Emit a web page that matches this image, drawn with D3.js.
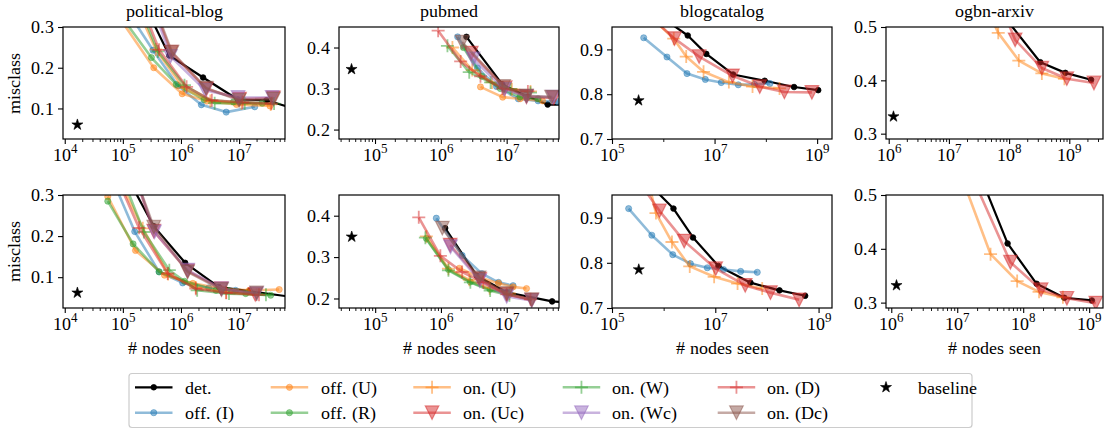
<!DOCTYPE html>
<html><head><meta charset="utf-8">
<script src="https://cdn.jsdelivr.net/npm/d3@7"></script>
<style>
@font-face{font-family:"CMLike";src:local("Liberation Serif"),local("LiberationSerif-Regular"),local("LiberationSerif"),local("DejaVu Serif"),local("DejaVuSerif");}
body{margin:0;background:#fff;}
svg text{font-family:"CMLike","Liberation Serif","DejaVu Serif",serif !important;}
</style></head><body>
<svg id="c" width="1105" height="431"></svg>
<script>
// ---------------- data ----------------
const titles = ["political-blog","pubmed","blogcatalog","ogbn-arxiv"];
const yDomains = [[0.025,0.3],[0.177,0.45],[0.7,0.95],[0.29,0.5]];
const yTicks = [[0.1,0.2,0.3],[0.2,0.3,0.4],[0.7,0.8,0.9],[0.3,0.4,0.5]];
// log10 x-domain per panel (row-major: top row 0..3, bottom row 4..7)
const xDomainsLog = [[3.97,7.79],[4.453,7.795],[5.0,9.29],[5.955,9.56],[3.97,7.79],[4.45,7.795],[5.0,9.26],[5.92,9.21]];
const xTickExps = [[4,5,6,7],[5,6,7],[5,7,9],[6,7,8,9]];
const baseline = [[1.65e4,0.06],[4.4e4,0.347],[3.3e5,0.786],[1.2e6,0.332],[1.65e4,0.062],[4.4e4,0.349],[3.3e5,0.785],[1.2e6,0.332]];

const det = [
 [[2.0e5,0.375],[6.3e5,0.23],[2.4e6,0.176],[9.5e6,0.122],[2.95e7,0.12],[1.0e8,0.097]],
 [[2.45e6,0.426],[8.6e6,0.31],[2.1e7,0.28],[4.2e7,0.261],[9e7,0.26]],
 [[8.5e5,0.975],[3.0e6,0.931],[6.9e6,0.890],[2.3e7,0.844],[9.5e7,0.830],[3.55e8,0.816],[1.05e9,0.809]],
 [[7e7,0.53],[3.3e8,0.434],[8.6e8,0.414],[2.3e9,0.401]],
 [[1e5,0.363],[3.4e5,0.224],[1.18e6,0.135],[4.5e6,0.076],[1.5e7,0.066],[8e7,0.052]],
 [[1.16e6,0.37],[3.5e6,0.255],[1e7,0.215],[4.9e7,0.193],[1e8,0.19]],
 [[5.5e5,0.972],[1.55e6,0.92],[3.7e6,0.856],[1.15e7,0.793],[4.8e7,0.756],[1.75e8,0.739],[5.5e8,0.727]],
 [[1.9e7,0.557],[5.8e7,0.41],[1.6e8,0.335],[4.2e8,0.309],[1.1e9,0.304]]
];
const offI = [
 [[1.23e5,0.337],[3.3e5,0.243],[8.9e5,0.156],[2.24e6,0.109],[6.0e6,0.091],[1.86e7,0.104]],
 [[1.8e6,0.426],[3.6e6,0.35],[7e6,0.305],[1.5e7,0.275],[3e7,0.27],[6e7,0.268]],
 [[4.15e5,0.926],[1.18e6,0.883],[2.9e6,0.846],[6.6e6,0.833],[1.35e7,0.826],[2.9e7,0.821],[6e7,0.822],[1.2e8,0.824]],
 null,
 [[7e4,0.33],[1.6e5,0.211],[4.2e5,0.113],[1.07e6,0.086],[3e6,0.074],[8.7e6,0.068]],
 [[8.5e5,0.394],[2.1e6,0.304],[4.2e6,0.26],[7.5e6,0.239],[1.25e7,0.231]],
 [[2.1e5,0.92],[5.9e5,0.861],[1.5e6,0.818],[3.3e6,0.798],[7e6,0.789],[1.45e7,0.785],[3.1e7,0.781],[6.5e7,0.779]],
 null
];
const offU = [
 [[9e4,0.32],[3.4e5,0.200],[1.05e6,0.136],[2.8e6,0.118],[9e6,0.11],[3.4e7,0.106]],
 [[4e6,0.304],[8.7e6,0.279],[1.6e7,0.275],[3.5e7,0.27]],
 null, null,
 [[5.5e4,0.296],[1.65e5,0.165],[5.2e5,0.105],[1.6e6,0.085],[5e6,0.072],[1.5e7,0.068],[4.9e7,0.07]],
 [[1.9e6,0.273],[4e6,0.25],[7.5e6,0.237],[1.25e7,0.228],[2.0e7,0.224]],
 null, null
];
const offR = [
 [[8e4,0.34],[3.1e5,0.225],[8.3e5,0.159],[2.5e6,0.122],[8e6,0.116],[2.5e7,0.113]],
 [[2.2e6,0.40],[4.2e6,0.33],[8e6,0.30],[1.6e7,0.28],[3e7,0.275]],
 null, null,
 [[5.5e4,0.285],[1.5e5,0.181],[4.2e5,0.113],[1.15e6,0.09],[4e6,0.068],[1.3e7,0.06],[3.5e7,0.056]],
 [[6e5,0.345],[1.3e6,0.27],[2.8e6,0.24],[5.6e6,0.222],[1.1e7,0.21]],
 null, null
];
const onU = [
 [[1.6e5,0.36],[3.7e5,0.245],[1.1e6,0.15],[3.2e6,0.118],[1.1e7,0.112],[3.5e7,0.11]],
 [[1.5e6,0.40],[3e6,0.345],[6e6,0.315],[1.2e7,0.298],[2.3e7,0.293]],
 [[6e5,0.97],[1.6e6,0.924],[2.8e6,0.884],[6.1e6,0.85],[1.9e7,0.827],[5.5e7,0.817],[1.85e8,0.813]],
 [[4.5e7,0.53],[6.6e7,0.489],[1.45e8,0.437],[3.5e8,0.413],[8.3e8,0.403]],
 [[9e4,0.33],[2.2e5,0.219],[6e5,0.108],[1.8e6,0.075],[6e6,0.063],[2e7,0.058]],
 [[6e5,0.35],[1.3e6,0.272],[2.7e6,0.245],[5.5e6,0.225],[1.1e7,0.212]],
 [[4.7e5,0.994],[7.1e5,0.91],[1.45e6,0.846],[3.2e6,0.792],[9.5e6,0.769],[2.7e7,0.754],[8.1e7,0.743]],
 [[1.07e7,0.546],[3.2e7,0.39],[8.1e7,0.34],[1.74e8,0.32],[4e8,0.31]]
];
const onUc = [
 [[2.2e5,0.42],[6.8e5,0.238],[2.75e6,0.148],[1.02e7,0.123],[3.9e7,0.126]],
 [[2.9e6,0.386],[9.5e6,0.302],[2.0e7,0.28],[5.2e7,0.277]],
 [[6e5,0.97],[1.66e6,0.924],[5e6,0.884],[2.24e7,0.841],[7.6e7,0.817],[2.3e8,0.805],[7.9e8,0.804]],
 [[8e7,0.53],[1.26e8,0.476],[3.5e8,0.423],[9.1e8,0.403],[2.57e9,0.395]],
 [[1.5e5,0.36],[3.4e5,0.212],[1.3e6,0.115],[4.9e6,0.072],[1.9e7,0.058]],
 [[1.38e6,0.329],[3.9e6,0.247],[1e7,0.21],[2.4e7,0.196]],
 [[3e5,0.987],[8.3e5,0.915],[2.5e6,0.848],[1.02e7,0.787],[3.8e7,0.75],[1.17e8,0.734],[4.2e8,0.718]],
 [[1.5e7,0.548],[6.4e7,0.375],[1.87e8,0.324],[4.6e8,0.308],[1.26e9,0.299]]
];
const onW = [
 [[1.7e5,0.37],[4.0e5,0.24],[1.15e6,0.157],[3.8e6,0.113],[1.25e7,0.113],[4e7,0.112]],
 [[1.26e6,0.404],[2.7e6,0.34],[5.7e6,0.315],[1.15e7,0.299],[2.3e7,0.29]],
 null, null,
 [[1e5,0.34],[2.3e5,0.21],[6.3e5,0.117],[1.9e6,0.068],[6.7e6,0.06],[2.9e7,0.057]],
 [[5.8e5,0.347],[1.3e6,0.268],[2.8e6,0.239],[5.6e6,0.219],[1.1e7,0.208]],
 null, null
];
const onWc = [
 [[2.2e5,0.42],[6.6e5,0.228],[2.6e6,0.145],[9.6e6,0.127],[3.7e7,0.127]],
 [[3.1e6,0.372],[9.2e6,0.298],[2.0e7,0.281],[5e7,0.279]],
 null, null,
 [[1.5e5,0.36],[3.5e5,0.21],[1.3e6,0.117],[5e6,0.072],[2e7,0.06]],
 [[1.4e6,0.325],[3.9e6,0.243],[1e7,0.205],[2.4e7,0.195]],
 null, null
];
const onD = [
 [[1.8e5,0.38],[4.2e5,0.244],[1.25e6,0.153],[3.4e6,0.12],[1.15e7,0.115],[3.6e7,0.112]],
 [[9.1e5,0.441],[2.0e6,0.366],[4.0e6,0.33],[8.6e6,0.30],[2.1e7,0.293]],
 null, null,
 [[8e4,0.34],[1.9e5,0.22],[5.9e5,0.109],[1.8e6,0.072],[6e6,0.062],[2.2e7,0.057]],
 [[4.6e5,0.396],[9.8e5,0.303],[2.1e6,0.264],[4.4e6,0.239],[1e7,0.21],[2.3e7,0.198]],
 null, null
];
const onDc = [
 [[2.3e5,0.42],[7e5,0.238],[2.7e6,0.15],[1.0e7,0.12],[3.9e7,0.123]],
 [[2.1e6,0.413],[9e6,0.305],[2.0e7,0.282],[4.8e7,0.279]],
 null, null,
 [[1.5e5,0.36],[3.4e5,0.222],[1.3e6,0.113],[5e6,0.07],[2e7,0.062]],
 [[1.05e6,0.37],[3.8e6,0.25],[1e7,0.212],[2.4e7,0.197]],
 null, null
];

// ---------------- styles / layout ----------------
const series = [
 {name:"det.", data:det, color:"#000000", marker:"o", op:1, lw:2.2},
 {name:"off. (I)", data:offI, color:"#1f77b4", marker:"o", op:0.5, lw:2.6},
 {name:"off. (U)", data:offU, color:"#ff7f0e", marker:"o", op:0.5, lw:2.6},
 {name:"off. (R)", data:offR, color:"#2ca02c", marker:"o", op:0.5, lw:2.6},
 {name:"on. (U)", data:onU, color:"#ff7f0e", marker:"+", op:0.5, lw:2.6},
 {name:"on. (Uc)", data:onUc, color:"#d62728", marker:"v", op:0.5, lw:2.6},
 {name:"on. (W)", data:onW, color:"#2ca02c", marker:"+", op:0.5, lw:2.6},
 {name:"on. (Wc)", data:onWc, color:"#9467bd", marker:"v", op:0.5, lw:2.6},
 {name:"on. (D)", data:onD, color:"#d62728", marker:"+", op:0.5, lw:2.6},
 {name:"on. (Dc)", data:onDc, color:"#8c564b", marker:"v", op:0.5, lw:2.6}
];
const colL = [63,339,612,886], colR = [285,559,832,1103];
const rowT = [27,195], rowB = [139,308];
const FS = 18, SUP = 12.5;

const svg = d3.select("#c");
const defs = svg.append("defs");

function drawMarker(g, type, color, op, cx, cy){
  if(type==="o"){
    g.append("circle").attr("cx",cx).attr("cy",cy).attr("r",op===1?2.8:3.1)
     .attr("fill",color).attr("fill-opacity",op).attr("stroke",color).attr("stroke-opacity",op).attr("stroke-width",0.8);
  } else if(type==="+"){
    g.append("path").attr("d",`M${cx-6.5},${cy}H${cx+6.5}M${cx},${cy-6.5}V${cy+6.5}`)
     .attr("stroke",color).attr("stroke-opacity",op).attr("stroke-width",1.8).attr("fill","none");
  } else if(type==="v"){
    const s=6.8;
    g.append("path").attr("d",`M${cx-s},${cy-s}L${cx+s},${cy-s}L${cx},${cy+s}Z`)
     .attr("fill",color).attr("fill-opacity",op).attr("stroke",color).attr("stroke-opacity",op).attr("stroke-width",1.2).attr("stroke-linejoin","miter");
  } else if(type==="star"){
    g.append("path").attr("d",d3.symbol(d3.symbolStar, 38)()).attr("transform",`translate(${cx},${cy})`)
     .attr("fill",color).attr("stroke",color).attr("stroke-width",0.6);
  }
}

for(let p=0;p<8;p++){
  const row=Math.floor(p/4), col=p%4;
  const L=colL[col], R=colR[col], T=rowT[row], B=rowB[row];
  const [lo,hi]=xDomainsLog[p];
  const x=d3.scaleLog().domain([10**lo,10**hi]).range([L,R]);
  const y=d3.scaleLinear().domain(yDomains[col]).range([B,T]);
  const g=svg.append("g");
  const cid="clip"+p;
  defs.append("clipPath").attr("id",cid).append("rect").attr("x",L).attr("y",T).attr("width",R-L).attr("height",B-T);
  const plot=g.append("g").attr("clip-path",`url(#${cid})`);
  const line=d3.line().x(d=>x(d[0])).y(d=>y(d[1]));
  series.forEach(s=>{
    const d=s.data[p]; if(!d) return;
    plot.append("path").attr("d",line(d)).attr("fill","none").attr("stroke",s.color)
      .attr("stroke-opacity",s.op).attr("stroke-width",s.lw).attr("stroke-linejoin","round").attr("stroke-linecap","butt");
    d.forEach(pt=>drawMarker(plot,s.marker,s.color,s.op,x(pt[0]),y(pt[1])));
  });
  drawMarker(plot,"star","#000",1,x(baseline[p][0]),y(baseline[p][1]));

  const majors=xTickExps[col].map(e=>10**e);
  const minors=[];
  if(col===2){
    for(let e=Math.floor(lo);e<=Math.ceil(hi);e++){ if(!xTickExps[col].includes(e)){const v=10**e; if(v>=10**lo&&v<=10**hi) minors.push(v);} }
  } else {
    for(let e=Math.floor(lo)-1;e<=Math.ceil(hi);e++) for(let k=2;k<=9;k++){const v=k*10**e; if(v>=10**lo&&v<=10**hi) minors.push(v);}
  }
  const gm=g.append("g").attr("transform",`translate(0,${B})`)
    .call(d3.axisBottom(x).tickValues(minors).tickSize(3).tickFormat(()=>""));
  gm.select(".domain").remove();
  gm.selectAll("line").attr("stroke-width",0.9);

  const gx=g.append("g").attr("transform",`translate(0,${B})`)
    .call(d3.axisBottom(x).tickValues(majors).tickSize(5).tickPadding(4).tickFormat(()=>""));
  gx.select(".domain").remove();
  gx.selectAll("line").attr("stroke-width",1.1);
  gx.selectAll(".tick text").each(function(d){
    const t=d3.select(this); const e=Math.round(Math.log10(d));
    t.text(null);
    t.append("tspan").text("10");
    t.append("tspan").attr("dy",-7.5).attr("font-size",SUP).text(e);
  });

  const gy=g.append("g").attr("transform",`translate(${L},0)`)
    .call(d3.axisLeft(y).tickValues(yTicks[col]).tickSize(5).tickPadding(4).tickFormat(d3.format(".1f")));
  gy.select(".domain").remove();
  gy.selectAll("line").attr("stroke-width",1.1);
  [gm,gx,gy].forEach(a=>a.attr("font-size",FS).attr("font-family",null));

  g.append("rect").attr("x",L).attr("y",T).attr("width",R-L).attr("height",B-T)
   .attr("fill","none").attr("stroke","#000").attr("stroke-width",1.2);

  if(row===0){
    g.append("text").attr("x",(L+R)/2).attr("y",17).attr("text-anchor","middle").attr("font-size",FS).text(titles[col]);
  }
  if(row===1){
    g.append("text").attr("x",(L+R)/2).attr("y",354).attr("text-anchor","middle").attr("font-size",FS).text("# nodes seen");
  }
  if(col===0){
    g.append("text").attr("transform",`translate(20,${(T+B)/2}) rotate(-90)`).attr("text-anchor","middle").attr("font-size",FS).text("misclass");
  }
}

// ---------------- legend ----------------
const lg=svg.append("g");
lg.append("rect").attr("x",129).attr("y",373.5).attr("width",843).attr("height",54).attr("rx",3)
  .attr("fill","#fff").attr("fill-opacity",0.8).attr("stroke","#cccccc").attr("stroke-width",1.2);
const hx=[135,270.7,413.3,562.7,717.7], tx=[185,320.7,462.7,612.3,767.3], ry=[387.3,412.7];
series.forEach((s,i)=>{
  const c=Math.floor(i/2), r=i%2;
  const yy=ry[r];
  lg.append("line").attr("x1",hx[c]).attr("x2",hx[c]+37.5).attr("y1",yy).attr("y2",yy)
    .attr("stroke",s.color).attr("stroke-opacity",s.op).attr("stroke-width",s.lw);
  drawMarker(lg,s.marker,s.color,s.op,hx[c]+18.75,yy);
  lg.append("text").attr("x",tx[c]).attr("y",yy).attr("dy","0.35em").attr("font-size",FS).text(s.name);
});
drawMarker(lg,"star","#000",1,886,ry[0]);
lg.append("text").attr("x",917.7).attr("y",ry[0]).attr("dy","0.35em").attr("font-size",FS).text("baseline");
svg.selectAll("text").attr("fill","#000");
</script>
</body></html>
